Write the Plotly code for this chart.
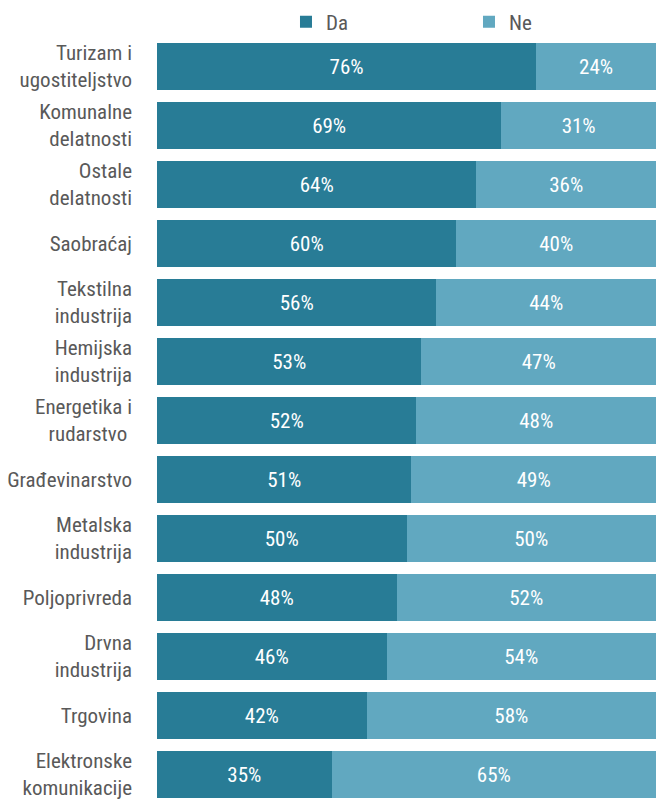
import plotly.graph_objects as go

categories = [
    "Turizam i<br>ugostiteljstvo",
    "Komunalne<br>delatnosti",
    "Ostale<br>delatnosti",
    "Saobraćaj",
    "Tekstilna<br>industrija",
    "Hemijska<br>industrija",
    "Energetika i<br>rudarstvo ",
    "Građevinarstvo",
    "Metalska<br>industrija",
    "Poljoprivreda",
    "Drvna<br>industrija",
    "Trgovina",
    "Elektronske<br>komunikacije",
]
da_values = [76, 69, 64, 60, 56, 53, 52, 51, 50, 48, 46, 42, 35]
ne_values = [24, 31, 36, 40, 44, 47, 48, 49, 50, 52, 54, 58, 65]

FONT = "Roboto Condensed, sans-serif"
DA_COLOR = "#287C96"
NE_COLOR = "#61A8C0"
GRAY = "#595959"

fig = go.Figure()
for name, vals, col in [("Da", da_values, DA_COLOR), ("Ne", ne_values, NE_COLOR)]:
    fig.add_trace(go.Bar(
        name=name, y=categories, x=vals, orientation="h",
        marker=dict(color=col, line=dict(width=0)),
        text=[f"{v}%" for v in vals], textposition="inside",
        insidetextanchor="middle", textangle=0,
        textfont=dict(color="white", size=21, family=FONT),
        hoverinfo="skip",
    ))

fig.update_layout(
    width=656, height=801,
    margin=dict(l=157, r=0, t=37, b=0, autoexpand=False),
    barmode="stack", bargap=0.19,
    plot_bgcolor="white", paper_bgcolor="white",
    font=dict(family=FONT, color=GRAY, size=21),
    legend=dict(
        orientation="h", x=0.2585, xanchor="left", y=1.0196, yanchor="middle",
        font=dict(size=21, color=GRAY, family=FONT),
        entrywidth=138, entrywidthmode="pixels",
        traceorder="normal", bgcolor="rgba(0,0,0,0)",
    ),
    xaxis=dict(range=[0, 100], visible=False, fixedrange=True),
    yaxis=dict(
        range=[-0.5 + 764 / 59, -0.5], showgrid=False, zeroline=False,
        showline=False, ticks="", ticklabelstandoff=24, fixedrange=True,
        tickfont=dict(size=21, color=GRAY, family=FONT),
    ),
)

fig.write_html(
    "out.html",
    config={"displayModeBar": False},
    post_script="document.body.style.margin='0';document.body.style.overflow='hidden';",
)
